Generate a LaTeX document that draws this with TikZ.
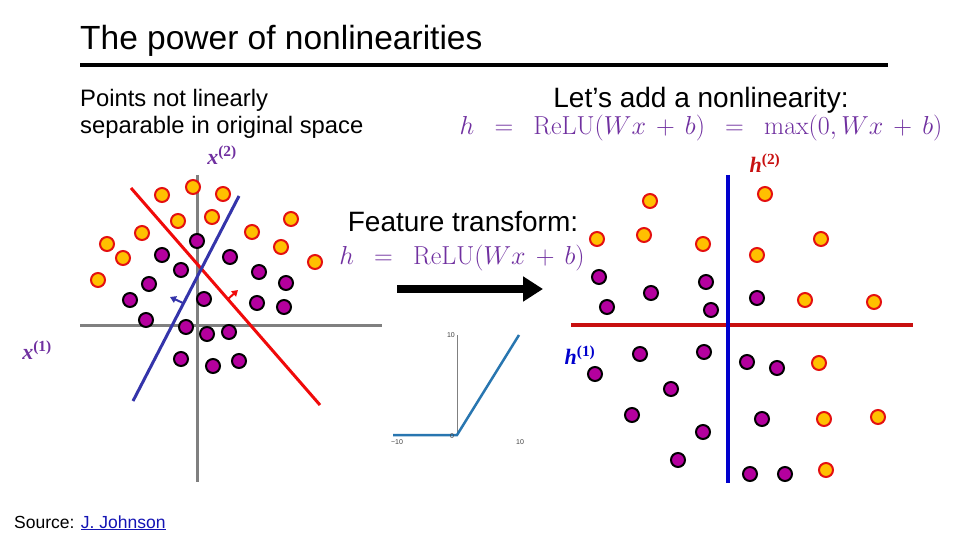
\documentclass[tikz,border=0pt]{standalone}
\RequirePackage{fix-cm}
\usepackage[no-math]{fontspec}
\setmainfont{Liberation Sans}
\newfontfamily\labelfont{Liberation Serif}
\usetikzlibrary{arrows.meta}

\definecolor{ptorange}{RGB}{255,192,0}
\definecolor{ptred}{RGB}{228,16,16}
\definecolor{ptpurple}{RGB}{180,0,158}
\definecolor{axisgray}{RGB}{128,128,128}
\definecolor{sepred}{RGB}{240,10,10}
\definecolor{sepblue}{RGB}{52,52,170}
\definecolor{hred}{RGB}{200,16,16}
\definecolor{hblue}{RGB}{0,0,205}
\definecolor{mathpurple}{RGB}{112,48,160}
\definecolor{relublue}{RGB}{40,118,176}
\definecolor{linkblue}{RGB}{20,20,180}

\begin{document}
\begin{tikzpicture}[x=1pt, y=-1pt,
		orangept/.style={
			circle,
			draw=ptred,
			fill=ptorange,
			line width=2pt,
			minimum size=14pt,
			inner sep=0pt,
		},
		purplept/.style={
			circle,
			draw=black,
			fill=ptpurple,
			line width=2pt,
			minimum size=14pt,
			inner sep=0pt,
		},
		axisline/.style={line width=3pt, draw=axisgray},
		sepline/.style={line width=3pt},
		smallarrow/.style={line width=2pt, -{Triangle[length=6pt, width=7pt]}},
		bigarrow/.style={line width=8pt, -{Triangle[length=20pt, width=24pt]}},
		axislabel/.style={font=\labelfont\bfseries\fontsize{22}{26}\selectfont, inner sep=0pt},
		ticklabel/.style={font=\fontsize{7}{8}\selectfont, text=black!75, inner sep=1pt},
		formula/.style={text=mathpurple, font=\fontsize{26}{30}\selectfont, inner sep=0pt},
	]

		\path[use as bounding box, fill=white] (0,0) rectangle (960,540);

		% Titre
		\node[anchor=base west, inner sep=0pt, font=\fontsize{33.5}{38}\selectfont] (title) at (80,50) {The power of nonlinearities};
		\coordinate (ulL) at (80,65);
		\coordinate (ulR) at (888,65);
		\draw[line width=4pt] (ulL) -- (ulR);

		% Textes
		\node[anchor=north west, align=left, inner sep=0pt, font=\fontsize{23.8}{26.7}\selectfont] (pts) at (80,89) {Points not linearly\\separable in original space};
		\node[anchor=base, inner sep=0pt, font=\fontsize{28}{32}\selectfont] (letsadd) at (701,108) {Let’s add a nonlinearity:};
		\node[formula, anchor=base] (relumax) at (701,135) {$h\hspace{0.5em}=\hspace{0.5em}\mathrm{ReLU}(Wx\,+\,b)\hspace{0.5em}=\hspace{0.5em}\max(0,Wx\,+\,b)$};
		\node[anchor=base, inner sep=0pt, font=\fontsize{28}{32}\selectfont] (feat) at (463,231) {Feature transform:};
		\node[formula, anchor=base] (relu) at (462,264) {$h\hspace{0.5em}=\hspace{0.5em}\mathrm{ReLU}(Wx\,+\,b)$};
		\node[anchor=base west, inner sep=0pt, font=\fontsize{17.5}{21}\selectfont] (src) at (14,528) {Source: \textcolor{linkblue}{\underline{J. Johnson}}};

		% Espace original : axes
		\coordinate (xl) at (80,325);
		\coordinate (xr) at (382,325);
		\coordinate (yt) at (197,175);
		\coordinate (yb) at (197,482);
		\draw[axisline] (xl) -- (xr);
		\draw[axisline] (yt) -- (yb);

		% Separateurs lineaires
		\coordinate (rA) at (131,188);
		\coordinate (rB) at (320,405);
		\coordinate (bA) at (239,196);
		\coordinate (bB) at (133,401);
		\draw[sepline, draw=sepred] (rA) -- (rB);
		\draw[sepline, draw=sepblue] (bA) -- (bB);
		\coordinate (rn0) at (228,299);
		\coordinate (rn1) at (238,290);
		\coordinate (bn0) at (183,303);
		\coordinate (bn1) at (170,297);
		\draw[smallarrow, sepred] (rn0) -- (rn1);
		\draw[smallarrow, sepblue] (bn0) -- (bn1);

		% Points (espace original)
		\foreach \px/\py [count=\i] in {98/280, 107/244, 123/258, 142/233, 162/195, 178/221, 193/187,
				212/217, 223/194, 252/232, 281/247, 291/219, 315/262}
			\node[orangept] (lo\i) at (\px,\py) {};
		\foreach \px/\py [count=\i] in {197/241, 162/255, 230/257, 181/270, 259/272, 286/283, 149/284,
				130/300, 204/299, 257/303, 284/307, 146/320, 186/327, 207/334, 229/332, 181/359, 213/366, 239/361}
			\node[purplept] (lp\i) at (\px,\py) {};

		\node[axislabel, text=mathpurple] (xtwo) at (222,155) {\textit{x}\textsuperscript{(2)}};
		\node[axislabel, text=mathpurple] (xone) at (37,350) {\textit{x}\textsuperscript{(1)}};

		% Fleche
		\coordinate (arrS) at (397,289);
		\coordinate (arrE) at (543,289);
		\draw[bigarrow] (arrS) -- (arrE);

		% Courbe ReLU
		\coordinate (rO) at (457,435);
		\coordinate (rTop) at (457,335);
		\coordinate (rL) at (393,435);
		\coordinate (rR) at (519,335);
		\draw[gray, line width=0.6pt] (rO) -- (rTop);
		\draw[relublue, line width=2.5pt] (rL) -- (rO) -- (rR);
		\node[ticklabel, anchor=east] (tyten) at (456,335) {10};
		\node[ticklabel] (txmten) at (397,442) {−10};
		\node[ticklabel] (tzero) at (452,436) {0};
		\node[ticklabel] (txten) at (520,442) {10};

		% Espace transforme
		\coordinate (hl) at (571,325);
		\coordinate (hr) at (913,325);
		\coordinate (vt) at (728,175);
		\coordinate (vb) at (728,483);
		\draw[sepline, line width=3.5pt, draw=hred] (hl) -- (hr);
		\draw[sepline, line width=3.5pt, draw=hblue] (vt) -- (vb);

		\foreach \px/\py [count=\i] in {650/201, 765/194, 597/239, 644/235, 703/244, 821/239, 757/255,
				805/300, 874/302, 819/363, 824/419, 878/417, 826/470}
			\node[orangept] (ro\i) at (\px,\py) {};
		\foreach \px/\py [count=\i] in {599/277, 651/293, 706/282, 607/307, 711/310, 757/298, 640/354,
				704/352, 595/374, 671/389, 747/362, 777/368, 632/415, 703/432, 762/419, 678/460, 750/474, 785/474}
			\node[purplept] (rp\i) at (\px,\py) {};

		\node[axislabel, text=hred] (htwo) at (765,163) {\textit{h}\textsuperscript{(2)}};
		\node[axislabel, text=hblue] (hone) at (580,355) {\textit{h}\textsuperscript{(1)}};

	\end{tikzpicture}
\end{document}
